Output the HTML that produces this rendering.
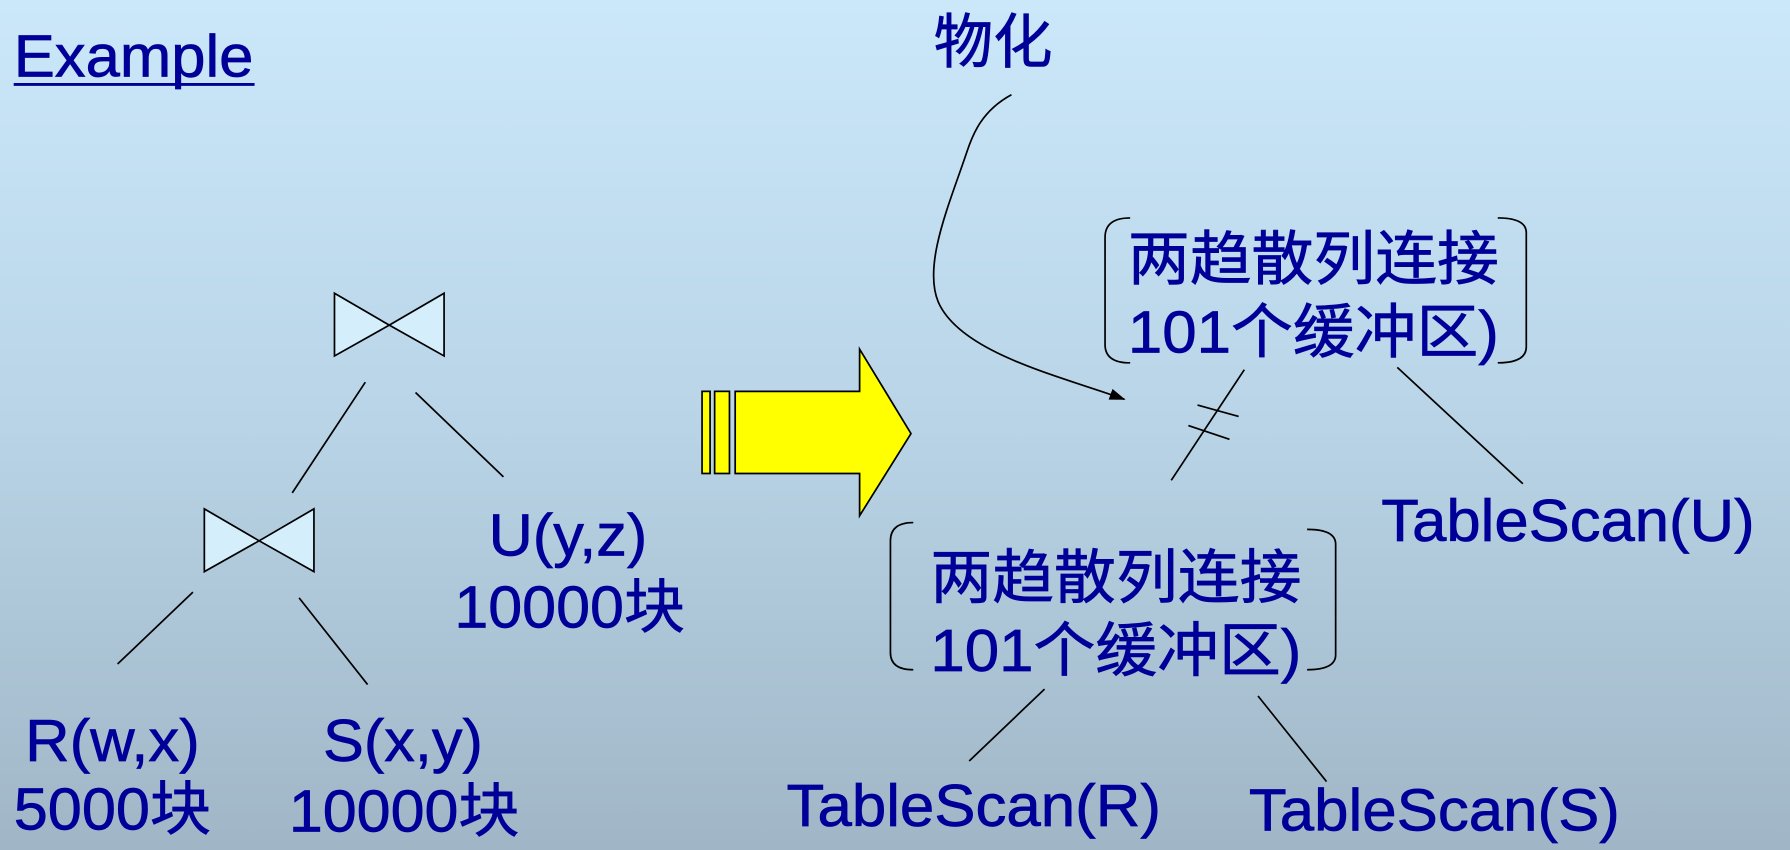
<!DOCTYPE html>
<html><head><meta charset="utf-8"><style>
html,body{margin:0;padding:0;width:1790px;height:850px;overflow:hidden}
svg{display:block}
text{font-family:"Liberation Sans","Noto Sans CJK SC",sans-serif;fill:#000099;font-size:52px;stroke:#000099;stroke-width:0.6}
</style></head><body>
<svg width="1790" height="850" viewBox="0 0 1568 745" preserveAspectRatio="none" xmlns="http://www.w3.org/2000/svg">
<defs>
<linearGradient id="bg" x1="0" y1="0" x2="0" y2="1">
<stop offset="0" stop-color="#cbe8fa"/><stop offset="0.5" stop-color="#b8d4e6"/><stop offset="1" stop-color="#a0b6c6"/>
</linearGradient>
<marker id="ah" markerWidth="14" markerHeight="10" refX="13" refY="5" orient="auto" markerUnits="userSpaceOnUse"><path d="M0,0 L14,5 L0,10 Z" fill="#000"/></marker>
</defs>
<rect width="1568" height="745" fill="url(#bg)"/>
<text x="12" y="67" font-size="44" textLength="210" lengthAdjust="spacingAndGlyphs">Example</text>
<line x1="12" y1="74" x2="223" y2="74" stroke="#000099" stroke-width="2.5"/>
<g stroke="#000" stroke-width="1.5" fill="#d4eefc">
<polygon points="293,257 341,285 389,257 389,312 341,285 293,312"/>
<polygon points="179,446 227,474 275,446 275,501 227,474 179,501"/>
</g>
<g stroke="#000" stroke-width="1.5" fill="none">
<line x1="320" y1="335" x2="256" y2="432"/>
<line x1="364" y1="344" x2="441" y2="418"/>
<line x1="169" y1="519" x2="103" y2="582"/>
<line x1="262" y1="524" x2="322" y2="600"/>
<line x1="1090" y1="324" x2="1026" y2="421"/>
<line x1="1049" y1="355" x2="1085" y2="365"/>
<line x1="1041" y1="373" x2="1077" y2="385"/>
<line x1="1224" y1="322" x2="1334" y2="424"/>
<line x1="915" y1="604" x2="849" y2="667"/>
<line x1="1102" y1="610" x2="1162" y2="685"/>
<path d="M990,191 Q968,191 968,208 L968,302 Q968,318 990,318"/>
<path d="M1312,191 Q1337,191 1337,204 L1337,304 Q1337,318 1312,318"/>
<path d="M800,458 Q780,458 780,474 L780,572 Q780,587 800,587"/>
<path d="M1145,464 Q1170,464 1170,477 L1170,574 Q1170,587 1145,587"/>
<path d="M886,83 C860,97 852,118 847,133 C832,178 808,232 822,265 C842,310 930,330 985,350" marker-end="url(#ah)"/>
</g>
<g stroke="#000" stroke-width="1.5" fill="#ffff00">
<rect x="615" y="343" width="7" height="72"/>
<rect x="626" y="343" width="13" height="72"/>
<polygon points="644,343 753,343 753,306 798,380 753,452 753,415 644,415"/>
</g>
<text x="428" y="487" textLength="139" lengthAdjust="spacingAndGlyphs">U(y,z)</text>
<text x="398" y="550" textLength="202" lengthAdjust="spacingAndGlyphs">10000块</text>
<text x="22" y="667" textLength="153" lengthAdjust="spacingAndGlyphs">R(w,x)</text>
<text x="12" y="727" textLength="173" lengthAdjust="spacingAndGlyphs">5000块</text>
<text x="283" y="667" textLength="140" lengthAdjust="spacingAndGlyphs">S(x,y)</text>
<text x="253" y="729" textLength="202" lengthAdjust="spacingAndGlyphs">10000块</text>
<text x="818" y="55" textLength="104" lengthAdjust="spacingAndGlyphs">物化</text>
<text x="988" y="245" textLength="325" lengthAdjust="spacingAndGlyphs">两趋散列连接</text>
<text x="988" y="309" textLength="325" lengthAdjust="spacingAndGlyphs">101个缓冲区)</text>
<text x="815" y="524" textLength="325" lengthAdjust="spacingAndGlyphs">两趋散列连接</text>
<text x="815" y="588" textLength="325" lengthAdjust="spacingAndGlyphs">101个缓冲区)</text>
<text x="1210" y="474" textLength="327" lengthAdjust="spacingAndGlyphs">TableScan(U)</text>
<text x="689" y="724" textLength="328" lengthAdjust="spacingAndGlyphs">TableScan(R)</text>
<text x="1094" y="728" textLength="325" lengthAdjust="spacingAndGlyphs">TableScan(S)</text>
</svg>
</body></html>
